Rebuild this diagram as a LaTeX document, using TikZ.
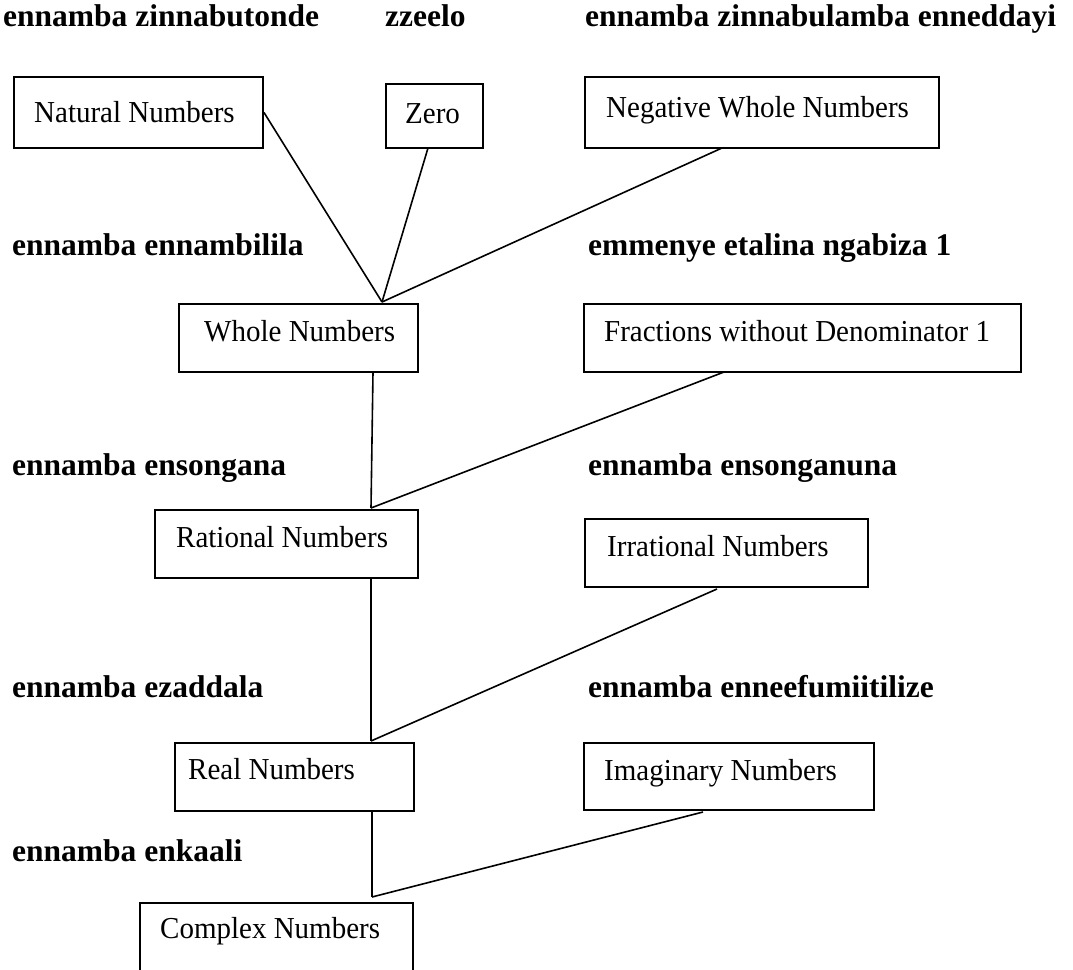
\documentclass[tikz,border=0pt]{standalone}
\usepackage{fontspec}
\setmainfont{Liberation Serif}
\newcommand{\tallbox}[1]{\scalebox{1}[1.05]{#1}}
\begin{document}
\begin{tikzpicture}[x=1pt,y=-1pt,
  box/.style={draw, line width=2pt, anchor=north west, inner sep=0pt},
  lab/.style={font=\fontsize{31.5}{36}\selectfont\bfseries, anchor=base west, inner sep=0pt},
  txt/.style={font=\fontsize{29}{34}\selectfont, anchor=base west, inner sep=0pt},
  conn/.style={line width=1.6pt}]
\clip (0,0) rectangle (1073,969);
\fill[white] (0,0) rectangle (1073,969);

% category labels
\node[lab] (l1) at (3,26) {ennamba zinnabutonde};
\node[lab] (l2) at (385,26) {zzeelo};
\node[lab] (l3) at (585,26) {ennamba zinnabulamba enneddayi};
\node[lab] (l4) at (12,255) {ennamba ennambilila};
\node[lab] (l5) at (588,255) {emmenye etalina ngabiza 1};
\node[lab] (l6) at (12,475) {ennamba ensongana};
\node[lab] (l7) at (588,475) {ennamba ensonganuna};
\node[lab] (l8) at (12,697) {ennamba ezaddala};
\node[lab] (l9) at (588,697) {ennamba enneefumiitilize};
\node[lab] (l10) at (12,861) {ennamba enkaali};

% boxes
\node[box, minimum width=249pt, minimum height=71pt] (natural) at (13,76) {};
\node[txt] (naturalt) at (34,122) {\tallbox{Natural Numbers}};
\node[box, minimum width=97pt, minimum height=64pt] (zero) at (385,83) {};
\node[txt] (zerot) at (405,123) {\tallbox{Zero}};
\node[box, minimum width=354pt, minimum height=71pt] (negative) at (584,76) {};
\node[txt] (negativet) at (606,117) {\tallbox{Negative Whole Numbers}};
\node[box, minimum width=239pt, minimum height=68pt] (whole) at (178,303) {};
\node[txt] (wholet) at (204,341) {\tallbox{Whole Numbers}};
\node[box, minimum width=437pt, minimum height=68pt] (fractions) at (583,303) {};
\node[txt] (fractionst) at (604,341) {\tallbox{Fractions without Denominator 1}};
\node[box, minimum width=263pt, minimum height=68pt] (rational) at (154,509) {};
\node[txt] (rationalt) at (176,547) {\tallbox{Rational Numbers}};
\node[box, minimum width=283pt, minimum height=68pt] (irrational) at (584,518) {};
\node[txt] (irrationalt) at (607,556) {\tallbox{Irrational Numbers}};
\node[box, minimum width=239pt, minimum height=68pt] (real) at (174,742) {};
\node[txt] (realt) at (188,779) {\tallbox{Real Numbers}};
\node[box, minimum width=290pt, minimum height=67pt] (imaginary) at (583,742) {};
\node[txt] (imaginaryt) at (604,780) {\tallbox{Imaginary Numbers}};
\node[box, minimum width=273pt, minimum height=90pt] (complex) at (139,902) {};
\node[txt] (complext) at (160,938) {\tallbox{Complex Numbers}};

% connector end points
\coordinate (zeroout) at (428,148);
\coordinate (negout) at (722,148);
\coordinate (j1) at (382,302);
\coordinate (wholeout) at (373,372);
\coordinate (fracout) at (724,372);
\coordinate (j2) at (371,508);
\coordinate (ratout) at (371,578);
\coordinate (irrout) at (717,589);
\coordinate (j3) at (371,741);
\coordinate (realout) at (372,811);
\coordinate (imagout) at (703,812);
\coordinate (j4) at (372,897);

% connectors
\draw[conn] (natural.east) -- (j1);
\draw[conn] (zeroout) -- (j1);
\draw[conn] (negout) -- (j1);
\draw[conn] (wholeout) -- (j2);
\draw[conn] (fracout) -- (j2);
\draw[conn] (ratout) -- (j3);
\draw[conn] (irrout) -- (j3);
\draw[conn] (realout) -- (j4);
\draw[conn] (imagout) -- (j4);
\end{tikzpicture}
\end{document}
